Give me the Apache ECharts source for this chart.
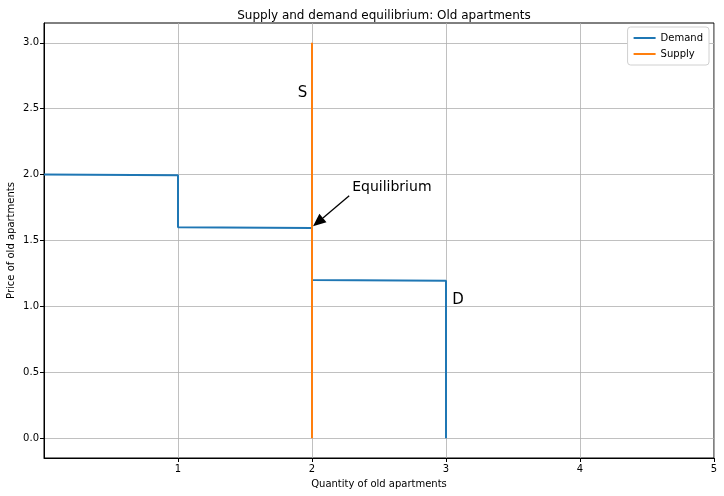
<!DOCTYPE html>
<html><head><meta charset="utf-8">
<script src="https://cdn.jsdelivr.net/npm/echarts@6/dist/echarts.min.js"></script>
<style>html,body{margin:0;padding:0;background:#fff}#c{width:724px;height:496px}</style>
</head><body><div id="c"></div>
<script>
const demandQ = [0, 1, 1, 2, 2, 3, 3];
const demandP = [2.0, 1.995, 1.6, 1.595, 1.2, 1.195, 0];
const supplyQ = [2, 2];
const supplyP = [0, 3];
const xTicks = [1, 2, 3, 4, 5];
const yTicks = [0, 0.5, 1.0, 1.5, 2.0, 2.5, 3.0];
const eqPoint = [2, 1.6];
const eqText = [2.3, 1.9];
const sLabelPos = [1.93, 2.62];
const dLabelPos = [3.09, 1.05];

const font = 'DejaVu Sans';
const chart = echarts.init(document.getElementById('c'));
chart.setOption({
  animation: false,
  backgroundColor: '#fff',
  title: { text: 'Supply and demand equilibrium: Old apartments', left: 379, textAlign: 'center', top: 5,
    textStyle: { fontFamily: font, fontSize: 12, fontWeight: 'normal', color: '#000' } },
  legend: { right: 15, top: 27, orient: 'vertical', itemWidth: 22, itemHeight: 2, itemGap: 6,
    padding: [6, 6, 6, 6], borderColor: '#d0d0d0', borderWidth: 1, borderRadius: 3, backgroundColor: '#fff',
    textStyle: { fontFamily: font, fontSize: 10, color: '#000' },
    data: [{name: 'Demand', icon: 'rect'}, {name: 'Supply', icon: 'rect'}] },
  grid: { left: 44, right: 10, top: 23, bottom: 38, containLabel: false, outerBoundsMode: 'none',
    show: true, borderColor: '#000', borderWidth: 1 },
  xAxis: { type: 'value', min: 0, max: 5, name: 'Quantity of old apartments', nameLocation: 'middle', nameGap: 21,
    nameMoveOverlap: false,
    nameTextStyle: { fontFamily: font, fontSize: 10, color: '#000' },
    axisLine: { show: true, onZero: false, lineStyle: { color: '#000' } },
    axisTick: { show: true, customValues: xTicks, length: 4, inside: false, lineStyle: { color: '#000' } },
    axisLabel: { customValues: xTicks, fontFamily: font, fontSize: 10, color: '#000', margin: 6 },
    splitLine: { show: false } },
  yAxis: { type: 'value', min: -0.15, max: 3.15, name: 'Price of old apartments', nameLocation: 'middle', nameGap: 28,
    nameMoveOverlap: false,
    nameTextStyle: { fontFamily: font, fontSize: 10, color: '#000' },
    axisLine: { show: true, onZero: false, lineStyle: { color: '#000' } },
    axisTick: { show: true, customValues: yTicks, length: 4, lineStyle: { color: '#000' } },
    axisLabel: { customValues: yTicks, fontFamily: font, fontSize: 10, color: '#000', margin: 5,
      formatter: v => v.toFixed(1) },
    splitLine: { show: false } },
  series: [
    { name: 'grid', type: 'line', data: [], silent: true, z: 0,
      markLine: { z: 0, silent: true, symbol: 'none', label: { show: false }, animation: false,
        lineStyle: { color: '#b0b0b0', width: 0.8, type: 'solid' },
        data: xTicks.map(v => ({ xAxis: v })).concat(yTicks.map(v => ({ yAxis: v }))) } },
    { name: 'Demand', type: 'line', symbol: 'none', color: '#1f77b4', lineStyle: { width: 2 },
      data: demandQ.map((q, i) => [q, demandP[i]]), z: 3 },
    { name: 'Supply', type: 'line', symbol: 'none', color: '#ff7f0e', lineStyle: { width: 2 },
      data: supplyQ.map((q, i) => [q, supplyP[i]]), z: 4 },
    { name: 'annot', type: 'line', data: [], z: 5,
      markPoint: { symbol: 'circle', symbolSize: 0, animation: false,
        label: { show: true, fontFamily: font, color: '#000' },
        data: [
          { coord: sLabelPos, label: { formatter: 'S', fontSize: 15, align: 'center', verticalAlign: 'middle' } },
          { coord: dLabelPos, label: { formatter: 'D', fontSize: 15, align: 'center', verticalAlign: 'middle' } },
          { coord: eqText, label: { formatter: 'Equilibrium', fontSize: 14, align: 'left', verticalAlign: 'middle' } }
        ] } }
  ]
});
// annotation arrow from text to equilibrium point
const tail = chart.convertToPixel('grid', eqText);
const tip = chart.convertToPixel('grid', eqPoint);
const sx = tail[0] - 3, sy = tail[1] + 8;
const ex = tip[0] + 1, ey = tip[1] - 1;
const ang = Math.atan2(ey - sy, ex - sx);
const hl = 13, hw = 5.5;
const bx = ex - hl * Math.cos(ang), by = ey - hl * Math.sin(ang);
const px = -Math.sin(ang), py = Math.cos(ang);
chart.setOption({ graphic: [
  { type: 'line', shape: { x1: sx, y1: sy, x2: bx, y2: by }, style: { stroke: '#000', lineWidth: 1.3 }, z: 100 },
  { type: 'polygon', shape: { points: [[ex, ey], [bx + px * hw, by + py * hw], [bx - px * hw, by - py * hw]] },
    style: { fill: '#000' }, z: 100 }
]});
</script></body></html>
